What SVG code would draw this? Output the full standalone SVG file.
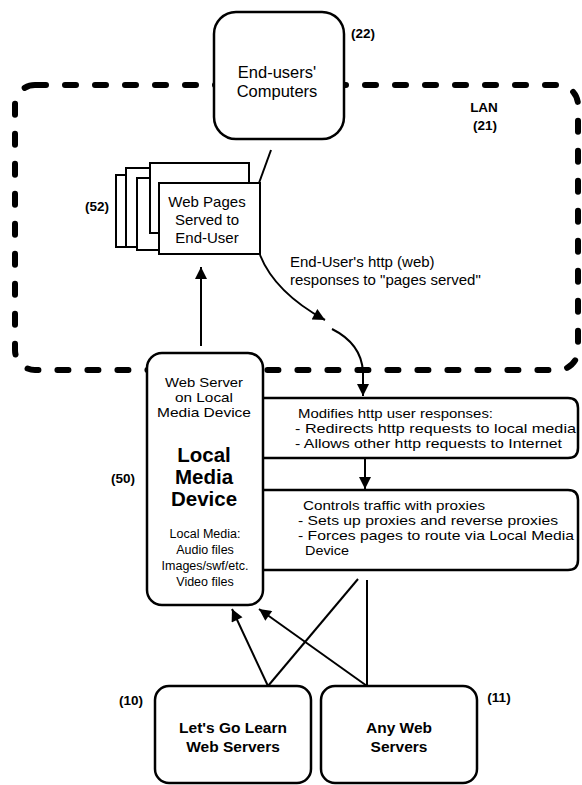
<svg xmlns="http://www.w3.org/2000/svg" width="582" height="785" viewBox="0 0 582 785">
<defs>
<marker id="ah" viewBox="0 0 10 10" refX="10" refY="5" markerUnits="userSpaceOnUse" markerWidth="14" markerHeight="12" orient="auto">
<path d="M0,0 L10,5 L0,10 z" fill="#000"/>
</marker>
</defs>
<style>
text{font-family:"Liberation Sans",Arial,sans-serif;fill:#000}
.t{font-size:15px}
.m{font-size:13.5px}
.s{font-size:12.5px}
.lbl{font-size:13.5px;font-weight:bold}
.big{font-size:20.5px;font-weight:bold}
.bb{font-size:15.5px;font-weight:bold}
.box{fill:#fff;stroke:#000;stroke-width:2.5}
.pg{fill:#fff;stroke:#000;stroke-width:2}
.ln{fill:none;stroke:#000;stroke-width:2}
.lan{fill:none;stroke:#000;stroke-width:6;stroke-dasharray:11 19;stroke-linecap:round}
</style>
<rect width="582" height="785" fill="#fff"/>

<g id="lan">
<rect class="lan" x="15" y="85" width="563" height="285" rx="20"/>
<text class="lbl" x="484" y="112" text-anchor="middle">LAN</text>
<text class="lbl" x="485" y="130" text-anchor="middle">(21)</text>
</g>

<g id="connectors">
<path class="ln" d="M271 150 L259 183"/>
<path class="ln" d="M260 255 C268 275 285 298 325 320" marker-end="url(#ah)"/>
<path class="ln" d="M332 329 C350 338 362 352 363 372 L363 396" marker-end="url(#ah)"/>
<path class="ln" d="M201 346 L201 267" marker-end="url(#ah)"/>
<path class="ln" d="M365 458 L365 489" marker-end="url(#ah)"/>
<path class="ln" d="M268 686 L232 609" marker-end="url(#ah)"/>
<path class="ln" d="M367 686 L259 609" marker-end="url(#ah)"/>
<path class="ln" d="M268 686 L358 579"/>
<path class="ln" d="M367 686 L367 580"/>
<text class="t" x="290" y="267">End-User's http (web)</text>
<text class="t" x="290" y="285">responses to "pages served"</text>
</g>

<g id="end-users">
<rect class="box" x="214" y="12" width="130" height="127" rx="22"/>
<text class="t" x="277" y="78" text-anchor="middle" style="font-size:16.5px">End-users'</text>
<text class="t" x="277" y="97" text-anchor="middle" style="font-size:16.5px">Computers</text>
<text class="lbl" x="363" y="38" text-anchor="middle">(22)</text>
</g>

<g id="web-pages">
<rect class="pg" x="116" y="175" width="100" height="72"/>
<rect class="pg" x="126" y="168" width="100" height="79"/>
<rect class="pg" x="137" y="178" width="100" height="72"/>
<rect class="pg" x="150" y="163" width="99" height="70"/>
<rect class="pg" x="159" y="183" width="101" height="71"/>
<text class="t" x="207" y="207" text-anchor="middle">Web Pages</text>
<text class="t" x="207" y="225" text-anchor="middle">Served to</text>
<text class="t" x="207" y="243" text-anchor="middle">End-User</text>
<text class="lbl" x="97" y="211" text-anchor="middle">(52)</text>
</g>

<g id="modifies">
<path class="box" d="M263 398 H568 Q578 398 578 408 V448 Q578 458 568 458 H263"/>
<text class="m" x="298" y="418" textLength="195" lengthAdjust="spacingAndGlyphs">Modifies http user responses:</text>
<text class="m" x="295" y="433" textLength="281" lengthAdjust="spacingAndGlyphs">- Redirects http requests to local media</text>
<text class="m" x="295" y="448" textLength="267" lengthAdjust="spacingAndGlyphs">- Allows other http requests to Internet</text>
</g>

<g id="controls">
<path class="box" d="M263 490 H568 Q578 490 578 500 V560 Q578 570 568 570 H263"/>
<text class="m" x="303" y="510" textLength="182" lengthAdjust="spacingAndGlyphs">Controls traffic with proxies</text>
<text class="m" x="298" y="525" textLength="260" lengthAdjust="spacingAndGlyphs">- Sets up proxies and reverse proxies</text>
<text class="m" x="298" y="540" textLength="276" lengthAdjust="spacingAndGlyphs">- Forces pages to route via Local Media</text>
<text class="m" x="305" y="555" textLength="44" lengthAdjust="spacingAndGlyphs">Device</text>
</g>

<g id="local-media-device">
<rect class="box" x="147" y="353" width="116" height="252" rx="15"/>
<text class="m" x="204" y="387" text-anchor="middle" textLength="78" lengthAdjust="spacingAndGlyphs">Web Server</text>
<text class="m" x="204" y="402" text-anchor="middle" textLength="58" lengthAdjust="spacingAndGlyphs">on Local</text>
<text class="m" x="204" y="417" text-anchor="middle" textLength="94" lengthAdjust="spacingAndGlyphs">Media Device</text>
<text class="big" x="204" y="462" text-anchor="middle">Local</text>
<text class="big" x="204" y="484" text-anchor="middle">Media</text>
<text class="big" x="204" y="506" text-anchor="middle">Device</text>
<text class="s" x="205" y="538" text-anchor="middle">Local Media:</text>
<text class="s" x="205" y="554" text-anchor="middle">Audio files</text>
<text class="s" x="205" y="570" text-anchor="middle">Images/swf/etc.</text>
<text class="s" x="205" y="586" text-anchor="middle">Video files</text>
<text class="lbl" x="123" y="483" text-anchor="middle">(50)</text>
</g>

<g id="lets-go-learn">
<rect class="box" x="155" y="686" width="156" height="97" rx="14"/>
<text class="bb" x="233" y="733" text-anchor="middle">Let's Go Learn</text>
<text class="bb" x="233" y="752" text-anchor="middle">Web Servers</text>
<text class="lbl" x="131" y="705" text-anchor="middle">(10)</text>
</g>

<g id="any-web">
<rect class="box" x="321" y="686" width="156" height="97" rx="14"/>
<text class="bb" x="399" y="733" text-anchor="middle">Any Web</text>
<text class="bb" x="399" y="752" text-anchor="middle">Servers</text>
<text class="lbl" x="499" y="702" text-anchor="middle">(11)</text>
</g>
</svg>
